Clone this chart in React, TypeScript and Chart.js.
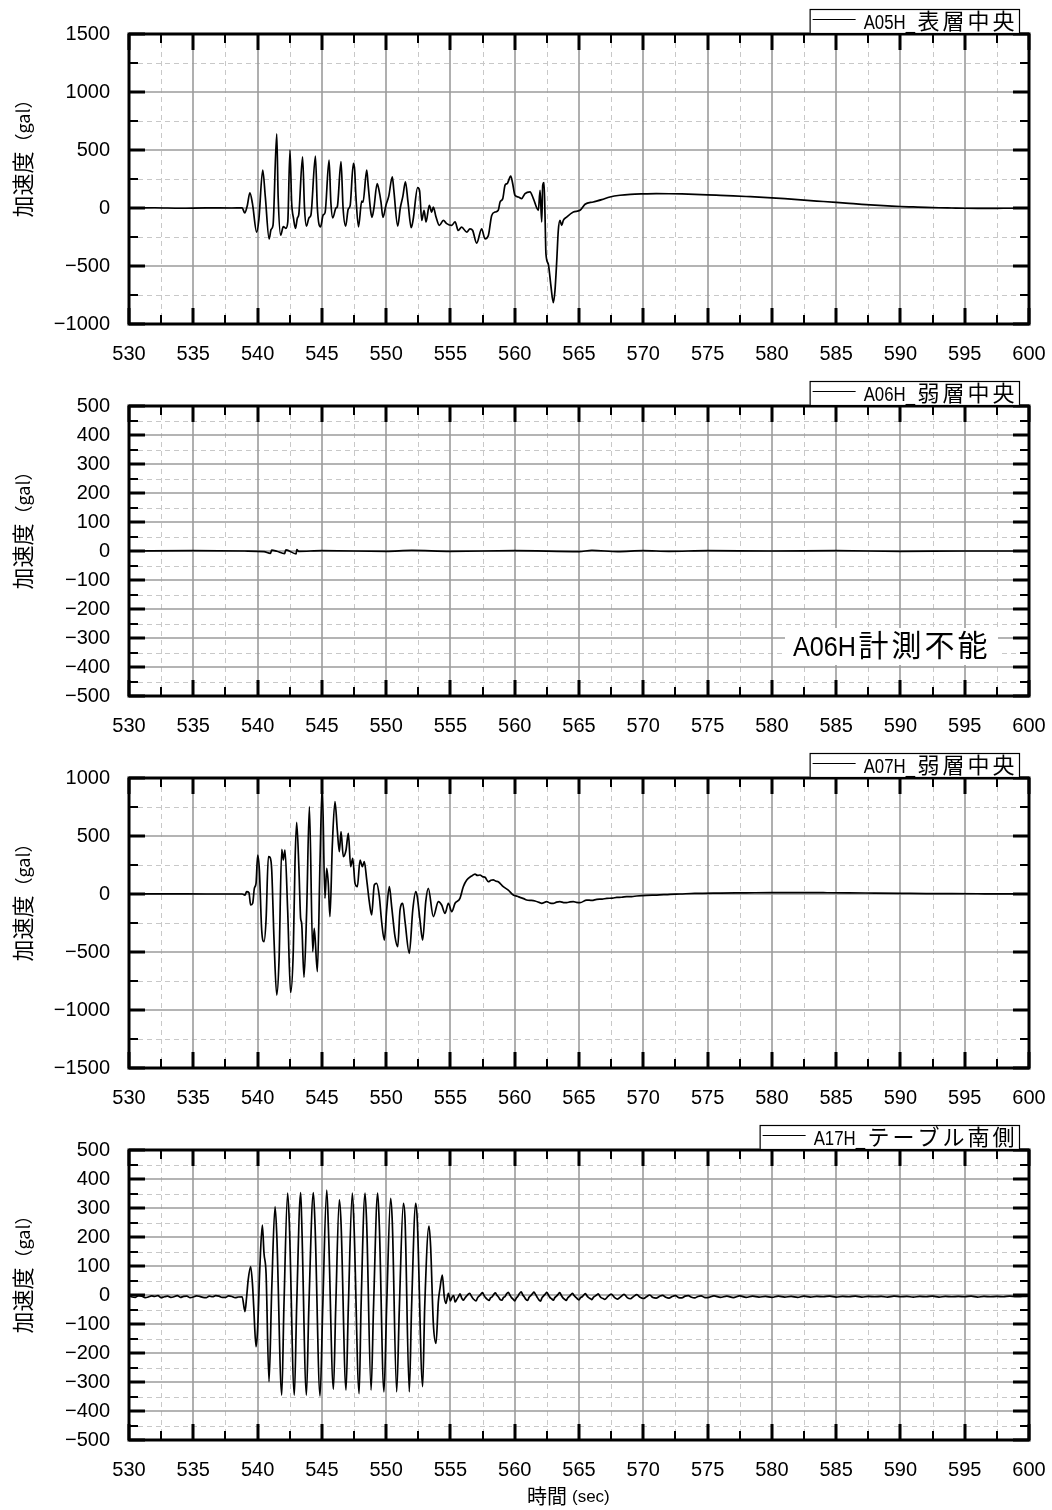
import React, { useEffect, useRef } from "react";
import { Chart, registerables } from "chart.js";

Chart.register(...registerables);

type Pt = [number, number];

// ---- axis settings -------------------------------------------------------
const timeRange: Pt = [530, 600];
const timeStep = 5;

const yTitleMain = "加速度";
const yTitleUnit = "（gal）";
const xTitleMain = "時間";
const xTitleUnit = "(sec)";

// ---- A05H 表層中央 -------------------------------------------------------
const a05hLabel = "A05H_表層中央";
const a05hRange: Pt = [-1000, 1500];
const a05hStep = 500;
const a05hWave: Pt[] = [
  [530, 0], [532, 2], [534, -2], [536, 1], [538, 0], [538.8, 2],
  [539.0, -43], [539.2, 20], [539.4, 130], [539.6, 40], [539.93, -208], [540.1, -100],
  [540.4, 327], [540.6, 100], [540.9, -266], [541.05, -185], [541.2, -150], [541.49, 639],
  [541.6, 100], [541.8, -235], [542.0, -160], [542.2, -175], [542.35, -120], [542.52, 500],
  [542.65, 50], [542.8, -92], [542.95, -176], [543.1, -85], [543.2, -60], [543.5, 442],
  [543.65, 0], [543.8, -156], [544.0, -85], [544.15, -60], [544.5, 448], [544.65, 0],
  [544.9, -162], [545.1, -61], [545.25, -40], [545.56, 413], [545.7, 50], [545.85, -85],
  [546.1, 0], [546.2, 10], [546.49, 399], [546.65, 0], [546.85, -156], [547.05, -10],
  [547.2, 20], [547.45, 385], [547.55, 330], [547.65, 100], [547.85, -162], [548.1, 60],
  [548.2, 50], [548.49, 327], [548.6, 200], [548.8, -30], [548.9, -80], [549.05, 0],
  [549.3, 211], [549.45, 150], [549.6, 50], [549.75, -80], [550.0, 30], [550.2, 100],
  [550.48, 269], [550.6, 150], [550.9, -156], [551.1, 0], [551.3, 100], [551.5, 225],
  [551.7, 50], [551.95, -170], [552.1, -100], [552.45, 176], [552.6, 150], [552.77, -107],
  [552.95, -20], [553.1, -120], [553.36, 23], [553.54, -35], [553.67, 8], [553.88, -78],
  [554.14, -150], [554.45, -107], [554.71, -135], [555.1, -150], [555.36, -120], [555.61, -194],
  [555.87, -165], [556.27, -208], [556.52, -180], [556.73, -194], [557.04, -303], [557.43, -180],
  [557.69, -266], [557.95, -237], [558.21, -64], [558.47, -35], [558.72, -20], [558.86, 52],
  [559.07, 81], [559.25, 197], [559.42, 211], [559.69, 275], [559.84, 211], [560.02, 110],
  [560.28, 95], [560.54, 81], [560.8, 124], [561.19, 139], [561.45, 81], [561.84, -20],
  [561.97, 153], [562.1, -120], [562.18, 197], [562.28, 220], [562.36, -78], [562.43, -396],
  [562.61, -483], [562.8, -656], [563.0, -815], [563.13, -714], [563.27, -454], [563.39, -194],
  [563.52, -107], [563.65, -150], [563.78, -107], [564.04, -78], [564.56, -35], [565.08, -20],
  [565.47, 32], [566.11, 52], [566.77, 72], [567.41, 95], [568.19, 110], [569, 118],
  [570, 122], [571, 124], [572, 123], [573, 121], [574, 118], [575, 114], [576, 109],
  [577, 104], [578, 99], [579, 94], [580, 88], [581, 80], [582, 72], [583, 64], [584, 56],
  [585, 48], [586, 40], [587, 32], [588, 25], [589, 19], [590, 13], [591, 9], [592, 5],
  [593, 2], [594, 0], [595, -2], [596, -3], [597, -3], [598, -2], [599, -2], [600, -1],
];

// ---- A06H 弱層中央 -------------------------------------------------------
const a06hLabel = "A06H_弱層中央";
const a06hRange: Pt = [-500, 500];
const a06hStep = 100;
const a06hNote = "A06H計測不能";
const a06hWave: Pt[] = [
  [530, 0], [535, 1], [539, 0], [540.5, -2], [541, -8], [541.1, 3], [541.5, -1],
  [542.1, -9], [542.2, 4], [543, -10], [543.05, 5], [543.2, -1], [545, 1], [550, -1],
  [552, 2], [555, -1], [560, 1], [565, -2], [566, 2], [568, -2], [570, 1], [572, -1],
  [575, 1], [580, 0], [585, 1], [590, -1], [595, 0], [600, 0],
];

// ---- A07H 弱層中央 -------------------------------------------------------
const a07hLabel = "A07H_弱層中央";
const a07hRange: Pt = [-1500, 1000];
const a07hStep = 500;
const a07hWave: Pt[] = [
  [530, 0], [533, 1], [536, 0], [538.8, 0],
  [539.02, -9], [539.15, 20], [539.33, 11], [539.46, -95], [539.62, -80], [539.75, 49],
  [539.88, 92], [540.01, 336], [540.14, 207], [540.32, -310], [540.5, -411], [540.66, -224],
  [540.84, 322], [540.97, 316], [541.1, 207], [541.28, -397], [541.49, -871], [541.67, -569],
  [541.88, 385], [542.0, 293], [542.13, 379], [542.34, -138], [542.57, -851], [542.78, -483],
  [542.91, 264], [543.04, 618], [543.22, 207], [543.35, -210], [543.43, -253], [543.61, -718],
  [543.82, -138], [544.03, 753], [544.29, -497], [544.41, -296], [544.65, -669], [544.86, 293],
  [545.03, 940], [545.24, -37], [545.38, 221], [545.5, 92], [545.63, -195], [545.81, 408],
  [546.02, 796], [546.2, 552], [546.36, 365], [546.49, 537], [546.67, 322], [546.88, 379],
  [547.06, 523], [547.24, 236], [547.4, 307], [547.58, 92], [547.76, 63], [547.97, 293],
  [548.15, 236], [548.3, 279], [548.49, 121], [548.69, -66], [548.87, -181], [549.08, 78],
  [549.26, 92], [549.47, -23], [549.65, -239], [549.86, -397], [550.04, -138], [550.25, 63],
  [550.43, -109], [550.69, -368], [550.9, -454], [551.08, -138], [551.29, -80], [551.47, -239],
  [551.8, -511], [552.07, -138], [552.3, 20], [552.42, -23], [552.63, -224], [552.84, -397],
  [553.08, -66], [553.28, 49], [553.67, -195], [554.06, -66], [554.32, -95], [554.58, -167],
  [554.84, -80], [555.1, -152], [555.36, -80], [555.74, -37], [556.0, 63], [556.27, 121],
  [556.65, 155], [556.91, 172], [557.1, 160], [557.3, 164], [557.5, 150], [557.69, 144],
  [557.95, 106], [558.15, 118], [558.33, 121], [558.55, 110], [558.72, 106], [559.11, 63],
  [559.5, 34], [559.89, -9], [560.2, -20], [560.41, -29], [560.7, -40], [560.93, -52],
  [561.3, -55], [561.58, -60], [561.9, -72], [562.1, -80], [562.49, -66], [562.75, -78],
  [563.0, -80], [563.25, -70], [563.52, -66], [563.8, -74], [564.04, -75], [564.3, -68],
  [564.56, -66], [564.8, -72], [565.08, -75], [565.6, -52], [566.0, -55], [566.38, -46],
  [566.8, -44], [567.16, -37], [567.6, -36], [567.93, -29], [568.3, -28], [568.71, -23],
  [569.1, -22], [569.49, -17], [570.27, -11], [571.04, -9], [572.08, -3], [572.86, 0],
  [574, 5], [576, 8], [578, 10], [580, 12], [582, 12], [584, 11], [586, 10], [588, 8],
  [590, 6], [592, 4], [594, 3], [596, 2], [598, 1], [600, 1],
];

// ---- A17H テーブル南側 ---------------------------------------------------
const a17hLabel = "A17H_テーブル南側";
const a17hRange: Pt = [-500, 500];
const a17hStep = 100;
const a17hWave: Pt[] = [
  [530, -3], [530.25, -7], [530.5, -8], [530.75, -2], [531, -4], [531.25, -9], [531.5, -7],
  [531.75, -3], [532, -5], [532.25, -2], [532.5, -9], [532.75, -6], [533, -4], [533.25, -8],
  [533.5, -6], [533.75, -2], [534, -8], [534.25, -5], [534.5, -4], [534.75, -9], [535, -7],
  [535.25, -3], [535.5, -5], [535.75, -8], [536, -9], [536.25, -4], [536.5, -6], [536.75, -2],
  [537, -4], [537.25, -8], [537.5, -8], [537.75, -3], [538, -5], [538.25, -9], [538.5, -7],
  [538.8, -6],
  [539.02, -57], [539.15, -6], [539.27, 52], [539.46, 98], [539.6, 40], [539.7, -40],
  [539.88, -178], [540.0, -121], [540.18, 98], [540.37, 241], [540.5, 144], [540.66, 75],
  [540.89, -299], [541.1, 17], [541.36, 305], [541.49, 212], [541.88, -345], [542.05, -40],
  [542.34, 351], [542.47, 247], [542.86, -345], [543.04, -40], [543.35, 353], [543.43, 259],
  [543.8, -345], [543.99, -40], [544.34, 353], [544.47, 240], [544.86, -349], [545.07, -40],
  [545.38, 362], [545.51, 230], [545.9, -325], [546.08, -40], [546.36, 328], [546.49, 250],
  [546.88, -328], [547.06, -40], [547.37, 351], [547.5, 240], [547.9, -340], [548.05, -40],
  [548.36, 351], [548.49, 240], [548.83, -328], [549.02, -40], [549.34, 351], [549.47, 240],
  [549.83, -334], [550.04, -40], [550.35, 333], [550.48, 250], [550.82, -334], [551.03, -40],
  [551.34, 316], [551.47, 260], [551.8, -334], [551.98, -40], [552.3, 316], [552.42, 260],
  [552.84, -316], [553.0, -40], [553.33, 238], [553.46, 167], [553.67, -98], [553.88, -167],
  [554.06, -23], [554.19, 23], [554.37, 69], [554.52, -6], [554.65, -29], [554.84, 6],
  [555.0, -20], [555.12, -8], [555.25, -2], [555.37, -24], [555.5, -15], [555.62, -6],
  [555.75, 4], [555.87, -10], [556.0, -18], [556.12, -11], [556.25, -4], [556.37, 2],
  [556.5, 6], [556.62, -3], [556.75, -12], [556.87, -17], [557.0, -20], [557.12, -9],
  [557.25, -3], [557.37, 3], [557.5, 8], [557.62, -2], [557.75, -10], [557.87, -15],
  [558.0, -19], [558.12, -10], [558.25, -6], [558.37, 2], [558.5, 7], [558.62, -1],
  [558.75, -8], [558.87, -16], [559.0, -18], [559.12, -9], [559.25, -5], [559.37, 4],
  [559.5, 9], [559.62, 0], [559.75, -9], [559.87, -14], [560.0, -20], [560.12, -11],
  [560.25, -4], [560.37, 5], [560.5, 11], [560.62, 1], [560.75, -7], [560.87, -15],
  [561.0, -19], [561.12, -8], [561.25, -2], [561.37, 4], [561.5, 10], [561.62, 2],
  [561.75, -8], [561.87, -16], [562.0, -21], [562.12, -10], [562.25, -3], [562.37, 3],
  [562.5, 9], [562.62, 0], [562.75, -9], [562.87, -13], [563.0, -18], [563.12, -9],
  [563.25, -4], [563.37, 2], [563.5, 8], [563.62, -1], [563.75, -10], [563.87, -14],
  [564.0, -19], [564.12, -10], [564.25, -5], [564.37, 1], [564.5, 6], [564.62, -2],
  [564.75, -8], [564.87, -13], [565.0, -17], [565.12, -9], [565.25, -6], [565.37, 0],
  [565.5, 5], [565.62, -3], [565.75, -9], [565.87, -12], [566.0, -16], [566.12, -8],
  [566.25, -4], [566.37, 0], [566.5, 4], [566.62, -4], [566.75, -10], [566.87, -12],
  [567.0, -15], [567.25, -5], [567.5, 3], [567.75, -8], [568.0, -14], [568.25, -6],
  [568.5, 2], [568.75, -9], [569.0, -13], [569.25, -5], [569.5, 1], [569.75, -8],
  [570.0, -12], [570.25, -6], [570.5, 0], [570.75, -9], [571.0, -11], [571.25, -5],
  [571.5, -1], [571.75, -8], [572.0, -11], [572.25, -5], [572.5, -2], [572.75, -9],
  [573.0, -10], [573.25, -4], [573.5, -2], [573.75, -8], [574.0, -10], [574.25, -5],
  [574.5, -3], [574.75, -8], [575.0, -9], [575.5, -3], [576, -8], [576.5, -4], [577, -9],
  [577.5, -3], [578, -8], [578.5, -4], [579, -7], [579.5, -5], [580, -8], [580.5, -4],
  [581, -7], [581.5, -5], [582, -8], [582.5, -4], [583, -7], [583.5, -5], [584, -6],
  [584.5, -4], [585, -7], [585.5, -5], [586, -6], [586.5, -4], [587, -7], [587.5, -5],
  [588, -6], [588.5, -5], [589, -7], [589.5, -4], [590, -6], [590.5, -5], [591, -7],
  [591.5, -5], [592, -6], [592.5, -4], [593, -7], [593.5, -5], [594, -6], [594.5, -5],
  [595, -6], [595.5, -4], [596, -7], [596.5, -5], [597, -6], [597.5, -5], [598, -6],
  [598.5, -4], [599, -6], [599.5, -5], [600, -4],
];

type PanelSpec = { label: string; range: Pt; step: number; wave: Pt[]; note?: string };

const panels: PanelSpec[] = [
  { label: a05hLabel, range: a05hRange, step: a05hStep, wave: a05hWave },
  { label: a06hLabel, range: a06hRange, step: a06hStep, wave: a06hWave, note: a06hNote },
  { label: a07hLabel, range: a07hRange, step: a07hStep, wave: a07hWave },
  { label: a17hLabel, range: a17hRange, step: a17hStep, wave: a17hWave },
];

// ---- layout ---------------------------------------------------------------
const PAGE_W = 1052;
const PAGE_H = 1510;
const PITCH = 372;
const PLOT_LEFT = 129;
const PLOT_RIGHT = 1029;
const PLOT_TOP = 34;
const PLOT_H = 290;

const TICK_FONT = { family: "'Liberation Sans', Arial, sans-serif", size: 20 };
const CJK = "'Noto Sans CJK JP', 'Noto Sans', sans-serif";
const LATIN = "'Liberation Sans', Arial, sans-serif";

const fmt = (v: number) => (v < 0 ? "\u2212" + Math.abs(v) : String(v));

// split "A05H_表層中央" into its ASCII head and the Japanese tail
function splitLabel(s: string): [string, string] {
  const i = s.search(/[^\x00-\x7f]/);
  return i < 0 ? [s, ""] : [s.slice(0, i), s.slice(i)];
}

// mixed latin / Japanese run; returns its width
function drawMixed(
  ctx: CanvasRenderingContext2D,
  text: string,
  x: number,
  y: number,
  latinPx: number,
  latinScale: number,
  cjkPx: number,
  cjkAdvance: number,
  draw = true
): number {
  const [head, tail] = splitLabel(text);
  ctx.font = `${latinPx}px ${LATIN}`;
  const hw = ctx.measureText(head).width * latinScale;
  if (draw) {
    ctx.save();
    ctx.translate(x, y);
    ctx.scale(latinScale, 1);
    ctx.fillText(head, 0, 0);
    ctx.restore();
  }
  let cx = x + hw + 1;
  ctx.font = `${cjkPx}px ${CJK}`;
  for (const ch of Array.from(tail)) {
    const w = ctx.measureText(ch).width;
    if (draw) ctx.fillText(ch, cx + (cjkAdvance - w) / 2, y);
    cx += cjkAdvance;
  }
  return cx - x;
}

function framePlugin(spec: PanelSpec, isLast: boolean) {
  return {
    id: "frame",
    beforeDatasetsDraw(chart: any) {
      const { ctx, chartArea: a } = chart;
      const xs = chart.scales.x;
      const ys = chart.scales.y;
      const [y0, y1] = spec.range;
      const major = spec.step;
      const half = major / 2;
      ctx.save();
      // dashed minor grid
      ctx.lineWidth = 1;
      ctx.strokeStyle = "#c8c8c8";
      ctx.setLineDash([5, 4]);
      ctx.beginPath();
      for (let t = timeRange[0] + timeStep / 2; t < timeRange[1]; t += timeStep) {
        const p = Math.round(xs.getPixelForValue(t)) + 0.5;
        ctx.moveTo(p, a.top);
        ctx.lineTo(p, a.bottom);
      }
      for (let v = y0 + half; v < y1; v += major) {
        const p = Math.round(ys.getPixelForValue(v)) + 0.5;
        ctx.moveTo(a.left, p);
        ctx.lineTo(a.right, p);
      }
      ctx.stroke();
      // solid major grid
      ctx.setLineDash([]);
      ctx.strokeStyle = "#9c9c9c";
      ctx.lineWidth = 1.6;
      ctx.beginPath();
      for (let t = timeRange[0] + timeStep; t < timeRange[1]; t += timeStep) {
        const p = Math.round(xs.getPixelForValue(t));
        ctx.moveTo(p, a.top);
        ctx.lineTo(p, a.bottom);
      }
      for (let v = y0 + major; v < y1; v += major) {
        const p = Math.round(ys.getPixelForValue(v));
        ctx.moveTo(a.left, p);
        ctx.lineTo(a.right, p);
      }
      ctx.stroke();
      ctx.restore();
    },
    afterDatasetsDraw(chart: any) {
      const { ctx, chartArea: a } = chart;
      const xs = chart.scales.x;
      const ys = chart.scales.y;
      const [y0, y1] = spec.range;
      const major = spec.step;
      const half = major / 2;
      ctx.save();
      ctx.strokeStyle = "#000";
      ctx.fillStyle = "#000";

      // inward tick marks on all four sides
      const tick = (isMajor: boolean) => {
        ctx.lineWidth = isMajor ? 3 : 2;
        return isMajor ? 16 : 9;
      };
      for (let t = timeRange[0]; t <= timeRange[1] + 1e-6; t += timeStep / 2) {
        const isMajor = Math.abs((t - timeRange[0]) % timeStep) < 1e-6;
        const len = tick(isMajor);
        const p = Math.round(xs.getPixelForValue(t));
        ctx.beginPath();
        ctx.moveTo(p, a.bottom);
        ctx.lineTo(p, a.bottom - len);
        ctx.moveTo(p, a.top);
        ctx.lineTo(p, a.top + len);
        ctx.stroke();
      }
      for (let v = y0; v <= y1 + 1e-6; v += half) {
        const isMajor = Math.abs((v - y0) % major) < 1e-6;
        const len = tick(isMajor);
        const p = Math.round(ys.getPixelForValue(v));
        ctx.beginPath();
        ctx.moveTo(a.left, p);
        ctx.lineTo(a.left + len, p);
        ctx.moveTo(a.right, p);
        ctx.lineTo(a.right - len, p);
        ctx.stroke();
      }
      // frame
      ctx.lineWidth = 3;
      ctx.strokeRect(a.left, a.top, a.right - a.left, a.bottom - a.top);

      // legend box sitting on the top edge
      ctx.textBaseline = "alphabetic";
      ctx.textAlign = "left";
      const LAT = 20, LSC = 0.84, CPX = 22, CADV = 25;
      const w = drawMixed(ctx, spec.label, 0, 0, LAT, LSC, CPX, CADV, false);
      const textRight = 1016;
      const textStart = textRight - w;
      const boxLeft = textStart - 54;
      const boxTop = a.top - 25;
      ctx.fillStyle = "#fff";
      ctx.fillRect(boxLeft, boxTop, 1019 - boxLeft, 24);
      ctx.lineWidth = 1.2;
      ctx.strokeStyle = "#000";
      ctx.strokeRect(boxLeft + 0.5, boxTop + 0.5, 1019 - boxLeft, 24);
      ctx.lineWidth = 1;
      ctx.beginPath();
      ctx.moveTo(boxLeft + 3, a.top - 14.5);
      ctx.lineTo(textStart - 8, a.top - 14.5);
      ctx.stroke();
      ctx.fillStyle = "#000";
      drawMixed(ctx, spec.label, textStart, a.top - 5, LAT, LSC, CPX, CADV);

      // status note inside the plot
      if (spec.note) {
        const nx = 793;
        const ny = a.top + 250;
        ctx.fillStyle = "#fff";
        ctx.fillRect(nx - 8, a.top + 222, 213, 37);
        ctx.fillStyle = "#000";
        drawMixed(ctx, spec.note, nx, ny, 28, 0.9, 30, 33);
      }

      // y-axis title, rotated
      ctx.save();
      ctx.translate(23, (a.top + a.bottom) / 2 - 25);
      ctx.rotate(-Math.PI / 2);
      ctx.textBaseline = "middle";
      ctx.font = `22px ${CJK}`;
      const w1 = ctx.measureText(yTitleMain).width;
      ctx.font = `18px ${CJK}`;
      const w2 = ctx.measureText(yTitleUnit).width;
      const start = -(w1 + w2) / 2;
      ctx.font = `22px ${CJK}`;
      ctx.fillText(yTitleMain, start, 0);
      ctx.font = `18px ${CJK}`;
      ctx.fillText(yTitleUnit, start + w1, 0);
      ctx.restore();

      // x-axis title under the last panel
      if (isLast) {
        ctx.textBaseline = "middle";
        ctx.font = `20px ${CJK}`;
        const xw = ctx.measureText(xTitleMain).width;
        ctx.fillText(xTitleMain, 527, a.bottom + 56);
        ctx.font = `17px ${LATIN}`;
        ctx.fillText(xTitleUnit, 527 + xw + 5, a.bottom + 57);
      }
      ctx.restore();
    },
  };
}

function Panel({ spec, index }: { spec: PanelSpec; index: number }) {
  const ref = useRef<HTMLCanvasElement>(null);
  const isLast = index === panels.length - 1;
  const top = index * PITCH;
  const height = isLast ? PAGE_H - top : PITCH;

  useEffect(() => {
    const canvas = ref.current;
    if (!canvas) return;
    const chart = new Chart(canvas, {
      type: "line",
      data: {
        datasets: [
          {
            label: spec.label,
            data: spec.wave.map(([x, y]) => ({ x, y })),
            borderColor: "#000",
            borderWidth: 1.7,
            pointRadius: 0,
            cubicInterpolationMode: "monotone",
            fill: false,
          },
        ],
      },
      options: {
        responsive: false,
        animation: false,
        devicePixelRatio: 1,
        events: [],
        layout: { padding: { top: PLOT_TOP, right: PAGE_W - PLOT_RIGHT, left: 0, bottom: 0 } },
        plugins: { legend: { display: false }, tooltip: { enabled: false } },
        scales: {
          x: {
            type: "linear",
            min: timeRange[0],
            max: timeRange[1],
            grid: { display: false },
            border: { display: false },
            ticks: {
              stepSize: timeStep,
              autoSkip: false,
              maxRotation: 0,
              padding: 10,
              color: "#000",
              font: TICK_FONT,
            },
            afterFit: (s: any) => {
              s.height = height - PLOT_TOP - PLOT_H;
              // end labels may overhang; the outer padding already leaves room
              s.paddingLeft = 0;
              s.paddingRight = 0;
            },
          },
          y: {
            type: "linear",
            min: spec.range[0],
            max: spec.range[1],
            grid: { display: false },
            border: { display: false },
            ticks: {
              stepSize: spec.step,
              autoSkip: false,
              padding: 11,
              color: "#000",
              font: TICK_FONT,
              callback: (v: any) => fmt(Number(v)),
            },
            afterFit: (s: any) => {
              s.width = PLOT_LEFT;
              s.paddingTop = 0;
              s.paddingBottom = 0;
            },
          },
        },
      } as any,
      plugins: [framePlugin(spec, isLast)],
    });
    return () => chart.destroy();
  }, []);

  return (
    <canvas
      ref={ref}
      width={PAGE_W}
      height={height}
      style={{ position: "absolute", left: 0, top, width: PAGE_W, height, display: "block" }}
    />
  );
}

export default function App() {
  return (
    <div
      style={{
        position: "absolute",
        left: 0,
        top: 0,
        width: PAGE_W,
        height: PAGE_H,
        background: "#fff",
        overflow: "hidden",
      }}
    >
      {panels.map((p, i) => (
        <Panel key={p.label + i} spec={p} index={i} />
      ))}
    </div>
  );
}
